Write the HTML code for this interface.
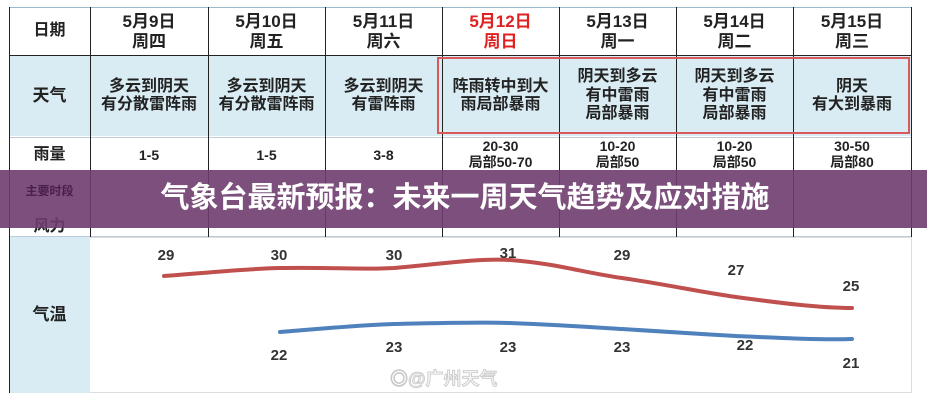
<!DOCTYPE html>
<html><head><meta charset="utf-8">
<style>
body{margin:0;width:927px;height:400px;background:#fff;position:relative;overflow:hidden;font-family:"Liberation Sans","Noto Sans CJK SC",sans-serif;font-weight:bold;color:#222}
.c{position:absolute;display:flex;align-items:center;justify-content:center;text-align:center;line-height:1.15;box-sizing:border-box}
.vl{position:absolute;width:1px;background:#222}
.hl{position:absolute;height:1px;background:#bcd}
</style></head><body>
<div style="position:absolute;left:9px;top:56px;width:903px;height:80px;background:#d9ecf3"></div>
<div style="position:absolute;left:9px;top:237px;width:81px;height:156px;background:#d9ecf3"></div>
<div style="position:absolute;left:90px;top:237px;width:822px;height:156px;border:1px solid #ddd;border-left:none;box-sizing:border-box"></div>
<div class="hl" style="left:9px;top:7px;width:903px;background:#9bc"></div>
<div class="hl" style="left:9px;top:55px;width:903px;background:#222"></div>
<div class="hl" style="left:9px;top:137px;width:903px"></div>
<div class="hl" style="left:9px;top:236px;width:903px"></div>
<div class="vl" style="left:9px;top:7px;height:386px"></div>
<div class="vl" style="left:90px;top:7px;height:230px"></div>
<div class="vl" style="left:208px;top:7px;height:230px"></div>
<div class="vl" style="left:325px;top:7px;height:230px"></div>
<div class="vl" style="left:442px;top:7px;height:230px"></div>
<div class="vl" style="left:559px;top:7px;height:230px"></div>
<div class="vl" style="left:676px;top:7px;height:230px"></div>
<div class="vl" style="left:793px;top:7px;height:230px"></div>
<div class="vl" style="left:911px;top:7px;height:230px"></div>
<div style="position:absolute;left:437px;top:57px;width:473px;height:77px;border:2px solid #d9595b;box-sizing:border-box"></div>
<div class="c" style="left:9px;top:8px;width:81px;height:47px;font-size:16px">日期</div>
<div class="c" style="left:90px;top:8px;width:118px;height:47px;font-size:17px">5月9日<br>周四</div>
<div class="c" style="left:208px;top:8px;width:117px;height:47px;font-size:17px">5月10日<br>周五</div>
<div class="c" style="left:325px;top:8px;width:117px;height:47px;font-size:17px">5月11日<br>周六</div>
<div class="c" style="left:442px;top:8px;width:117px;height:47px;font-size:17px;color:#e02020">5月12日<br>周日</div>
<div class="c" style="left:559px;top:8px;width:117px;height:47px;font-size:17px">5月13日<br>周一</div>
<div class="c" style="left:676px;top:8px;width:117px;height:47px;font-size:17px">5月14日<br>周二</div>
<div class="c" style="left:793px;top:8px;width:118px;height:47px;font-size:17px">5月15日<br>周三</div>
<div class="c" style="left:9px;top:56px;width:81px;height:80px;font-size:17px">天气</div>
<div class="c" style="left:90px;top:56px;width:118px;height:80px;font-size:16px">多云到阴天<br>有分散雷阵雨</div>
<div class="c" style="left:208px;top:56px;width:117px;height:80px;font-size:16px">多云到阴天<br>有分散雷阵雨</div>
<div class="c" style="left:325px;top:56px;width:117px;height:80px;font-size:16px">多云到阴天<br>有雷阵雨</div>
<div class="c" style="left:442px;top:56px;width:117px;height:80px;font-size:16px">阵雨转中到大<br>雨局部暴雨</div>
<div class="c" style="left:559px;top:56px;width:117px;height:80px;font-size:16px">阴天到多云<br>有中雷雨<br>局部暴雨</div>
<div class="c" style="left:676px;top:56px;width:117px;height:80px;font-size:16px">阴天到多云<br>有中雷雨<br>局部暴雨</div>
<div class="c" style="left:793px;top:56px;width:118px;height:80px;font-size:16px">阴天<br>有大到暴雨</div>
<div class="c" style="left:9px;top:140px;width:81px;height:30px;font-size:16px">雨量</div>
<div class="c" style="left:90px;top:140px;width:118px;height:30px;font-size:14px">1-5</div>
<div class="c" style="left:208px;top:140px;width:117px;height:30px;font-size:14px">1-5</div>
<div class="c" style="left:325px;top:140px;width:117px;height:30px;font-size:14px">3-8</div>
<div class="c" style="left:442px;top:138px;width:117px;height:40px;font-size:14px;align-items:flex-start">20-30<br>局部50-70</div>
<div class="c" style="left:559px;top:138px;width:117px;height:40px;font-size:14px;align-items:flex-start">10-20<br>局部50</div>
<div class="c" style="left:676px;top:138px;width:117px;height:40px;font-size:14px;align-items:flex-start">10-20<br>局部50</div>
<div class="c" style="left:793px;top:138px;width:118px;height:40px;font-size:14px;align-items:flex-start">30-50<br>局部80</div>
<div class="c" style="left:9px;top:212px;width:81px;height:30px;font-size:16px">风力</div>
<div style="position:absolute;left:0;top:170px;width:927px;height:58px;background:rgba(110,60,110,0.9)"></div>
<div class="c" style="left:9px;top:180px;width:81px;height:24px;font-size:12px;color:#4a1f4c">主要时段</div>
<div class="c" style="left:100px;top:170px;width:730px;height:58px;font-size:29px;color:#fff">气象台最新预报：未来一周天气趋势及应对措施</div>
<div class="c" style="left:9px;top:300px;width:81px;height:30px;font-size:17px">气温</div>
<svg style="position:absolute;left:0;top:0" width="927" height="400">
<path d="M164,276 C220,272 240,269 280,268 C330,267 360,270 394,268 C440,264 480,258 510,260 C560,264 580,272 622,278 C670,285 700,292 736,297 C780,303 820,308 852,308" fill="none" stroke="#c0504d" stroke-width="4" stroke-linecap="round"/>
<path d="M280,332 C330,328 360,325 394,324 C440,323 480,322 510,323 C560,325 590,327 622,329 C670,332 700,334 736,336 C780,338 820,340 852,339" fill="none" stroke="#4f81bd" stroke-width="4" stroke-linecap="round"/>
<g font-family="Liberation Sans" font-weight="bold" font-size="15" fill="#333" text-anchor="middle">
<text x="166" y="260">29</text><text x="279" y="260">30</text><text x="394" y="260">30</text><text x="508" y="258">31</text><text x="622" y="260">29</text><text x="736" y="275">27</text><text x="851" y="291">25</text>
<text x="279" y="360">22</text><text x="394" y="352">23</text><text x="508" y="352">23</text><text x="622" y="352">23</text><text x="745" y="350">22</text><text x="851" y="368">21</text>
</g>
<text x="390" y="385" font-family="Liberation Sans,Noto Sans CJK SC,sans-serif" font-size="18" fill="#f4f4f4" stroke="#c8c8c8" stroke-width="0.8">◎@广州天气</text>
</svg>
</body></html>
